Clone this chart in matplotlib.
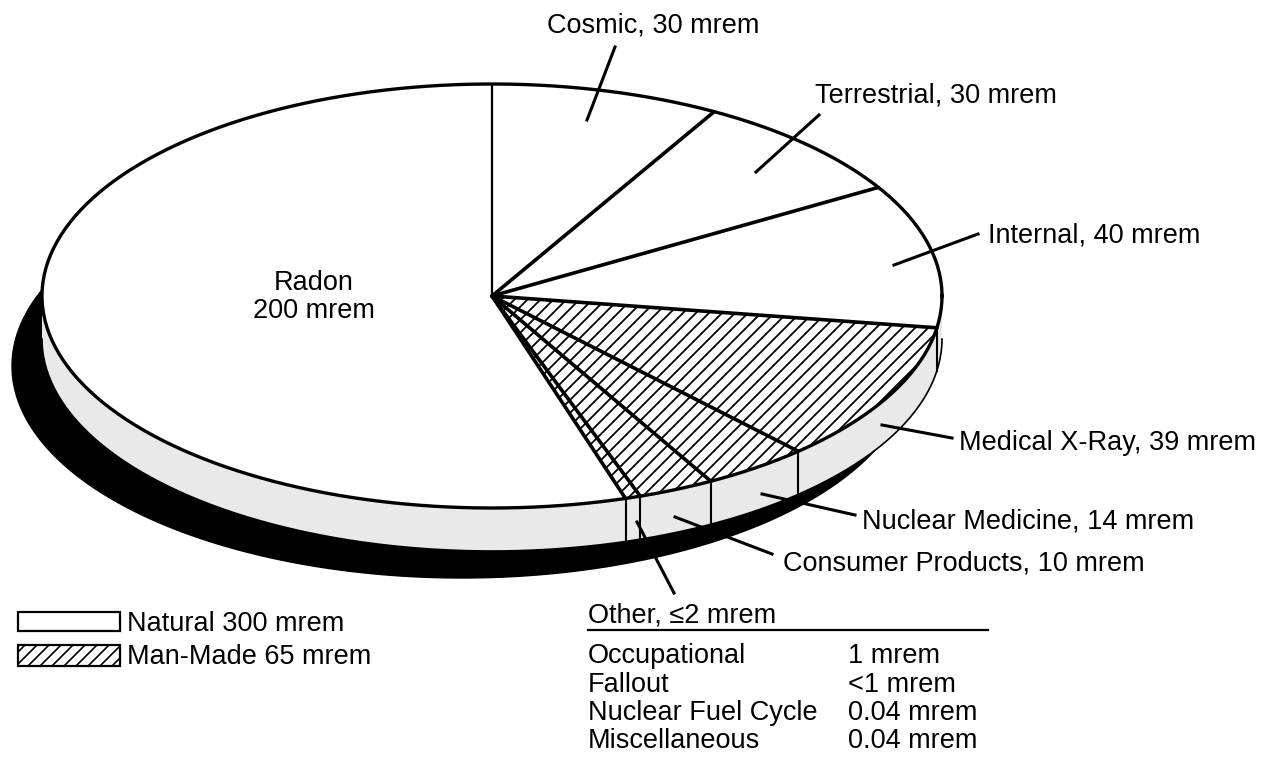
import numpy as np
import matplotlib
matplotlib.use('Agg')
import matplotlib.pyplot as plt
from matplotlib.patches import Polygon

plt.rcParams['font.family'] = ['Liberation Sans', 'DejaVu Sans']

# data
sources = ['Cosmic', 'Terrestrial', 'Internal', 'Medical X-Ray',
           'Nuclear Medicine', 'Consumer Products', 'Other', 'Radon']
doses = [30, 30, 40, 39, 14, 10, 2, 200]
man_made = [False, False, False, True, True, True, True, False]
slice_labels = ['Cosmic, 30 mrem', 'Terrestrial, 30 mrem', 'Internal, 40 mrem',
                'Medical X-Ray, 39 mrem', 'Nuclear Medicine, 14 mrem',
                'Consumer Products, 10 mrem', 'Other, \u22642 mrem', 'Radon\n200 mrem']
other_names = ['Occupational', 'Fallout', 'Nuclear Fuel Cycle', 'Miscellaneous']
other_doses = ['1 mrem', '<1 mrem', '0.04 mrem', '0.04 mrem']
legend_labels = ['Natural 300 mrem', 'Man-Made 65 mrem']

# geometry of the tilted pie (pixels)
CX, CY = 492, 296
A, B = 450, 212
DEPTH = 43
SHX, SHY = -30, 70
FS = 19.5


def ell(t, dx=0, dy=0):
    t = np.radians(t)
    return CX + dx + A * np.cos(t), CY + dy - B * np.sin(t)


def hatch(patch, x_from, x_to, step, y_top, y_bot, lw=1.3, z=5):
    # diagonal lines going up to the right, clipped to the patch
    h = y_bot - y_top
    for c in np.arange(x_from, x_to, step):
        ln, = ax.plot([c, c + h], [y_bot, y_top], color='black', lw=lw, zorder=z)
        ln.set_clip_path(patch)


fig = plt.figure(figsize=(12.76, 7.57), dpi=100)
ax = fig.add_axes([0, 0, 1, 1])
ax.set_xlim(0, 1276)
ax.set_ylim(757, 0)
ax.axis('off')

full = np.linspace(0, 360, 400)

# shadow
sx, sy = ell(full, SHX, SHY)
ax.fill(sx, sy, color='black', zorder=1)

# side band
tb = np.linspace(0, -180, 200)
x0, y0 = ell(tb)
x1, y1 = ell(tb[::-1], 0, DEPTH)
ax.fill(np.r_[x0, x1], np.r_[y0, y1], facecolor='#e9e9e9', edgecolor='none', zorder=2)
ax.plot(x1, y1, color='black', lw=1.2, zorder=3)

# slice angles
total = sum(doses)
bounds = 90 - np.r_[0, np.cumsum(doses)] / total * 360

for i in range(len(doses)):
    ts = np.linspace(bounds[i], bounds[i + 1], 200)
    ex, ey = ell(ts)
    poly = Polygon(np.c_[np.r_[CX, ex], np.r_[CY, ey]], closed=True,
                   facecolor='white', edgecolor='none', zorder=4)
    ax.add_patch(poly)
    if man_made[i]:
        hatch(poly, -100, 1000, 13, 250, 550)

# rim edges at slice boundaries
for b in bounds:
    bb = ((b + 180) % 360) - 180
    if -180 < bb < 0:
        bx, by = ell(bb)
        ax.plot([bx, bx], [by, by + DEPTH], color='black', lw=1.5, zorder=3)

# outline and radial lines
ox, oy = ell(full)
ax.plot(ox, oy, color='black', lw=2.4, zorder=6)
for k, b in enumerate(bounds[:-1]):
    bx, by = ell(b)
    ax.plot([CX, bx], [CY, by], color='black', lw=1.6 if k == 0 else 2.6,
            zorder=6, solid_capstyle='round')

# labels with leaders
label_pos = [(547, 32), (815, 103), (988, 243), (959, 450), (862, 529), (783, 571)]
leaders = [((587, 120), (615, 47)), ((756, 172), (819, 115)), ((894, 265), (978, 234)),
           ((882, 425), (952, 438)), ((762, 494), (855, 515)), ((675, 517), (772, 554)),
           ((637, 522), (674, 593))]
for (p, q) in leaders:
    ax.plot([p[0], q[0]], [p[1], q[1]], color='black', lw=2.2, zorder=7)
for lab, (x, y) in zip(slice_labels[:6], label_pos):
    ax.text(x, y, lab, fontsize=FS, ha='left', va='baseline', zorder=8)

radon_lines = slice_labels[7].split('\n')
ax.text(314, 290, radon_lines[0], fontsize=FS, ha='center', va='baseline', zorder=8)
ax.text(314, 318, radon_lines[1], fontsize=FS, ha='center', va='baseline', zorder=8)

# "Other" table
ax.text(588, 623, slice_labels[6], fontsize=FS, ha='left', va='baseline')
ax.plot([588, 988], [630, 630], color='black', lw=1.6)
for j, (nm, ds) in enumerate(zip(other_names, other_doses)):
    yb = 663 + j * 28.5
    ax.text(588, yb, nm, fontsize=FS, ha='left', va='baseline')
    ax.text(848, yb, ds, fontsize=FS, ha='left', va='baseline')

# legend
box1 = Polygon([(18, 612), (120, 612), (120, 631), (18, 631)], closed=True,
               facecolor='white', edgecolor='black', lw=1.6)
ax.add_patch(box1)
box2 = Polygon([(18, 645), (120, 645), (120, 666), (18, 666)], closed=True,
               facecolor='white', edgecolor='black', lw=1.6)
ax.add_patch(box2)
hatch(box2, -30, 140, 12, 636, 676, lw=1.2, z=3)
ax.text(127, 631, legend_labels[0], fontsize=FS, ha='left', va='baseline')
ax.text(127, 664, legend_labels[1], fontsize=FS, ha='left', va='baseline')

fig.savefig('out.png', dpi=100)
